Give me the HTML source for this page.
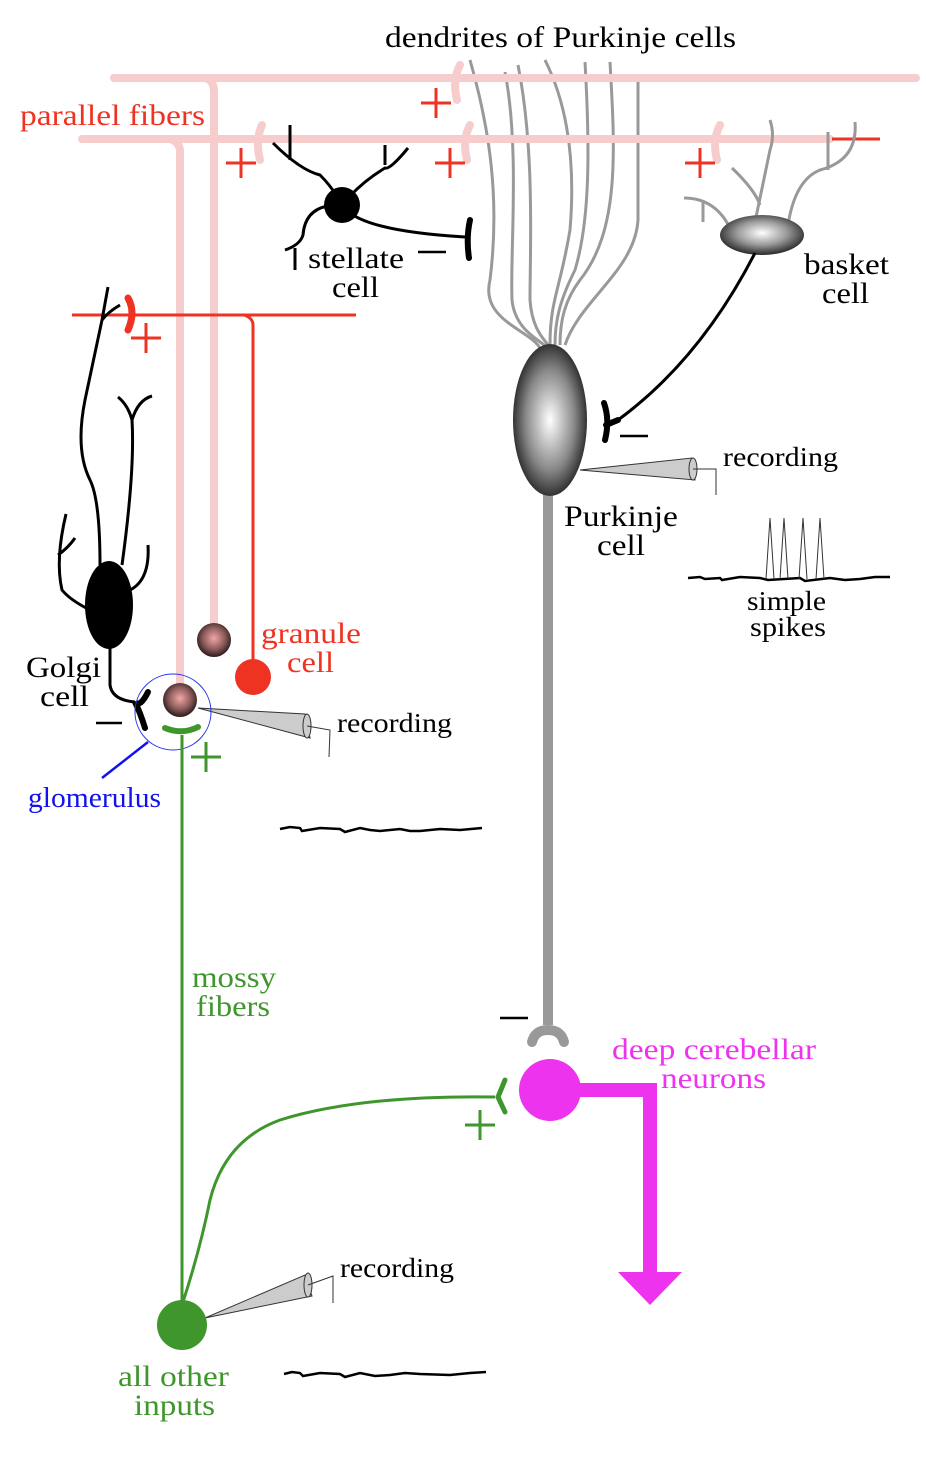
<!DOCTYPE html>
<html><head><meta charset="utf-8"><style>
html,body{margin:0;padding:0;background:#fff;}
svg{display:block;}
text{font-family:"Liberation Serif",serif;font-size:30px;}
</style></head><body>
<svg width="926" height="1466" viewBox="0 0 926 1466" xmlns="http://www.w3.org/2000/svg">
<defs>
<radialGradient id="pk" cx="0.5" cy="0.5" r="0.6">
<stop offset="0" stop-color="#ffffff"/><stop offset="0.55" stop-color="#888"/><stop offset="1" stop-color="#000"/></radialGradient>
<radialGradient id="bk" cx="0.5" cy="0.45" r="0.6">
<stop offset="0" stop-color="#ffffff"/><stop offset="0.5" stop-color="#999"/><stop offset="1" stop-color="#111"/></radialGradient>
<radialGradient id="gr" cx="0.5" cy="0.45" r="0.55">
<stop offset="0" stop-color="#f2a6a6"/><stop offset="0.6" stop-color="#8a5a5a"/><stop offset="1" stop-color="#2a1a1a"/></radialGradient>
</defs>

<!-- Purkinje dendrites -->
<g fill="none" stroke="#999" stroke-width="3">
<path d="M470 60 C490 130 500 200 490 280 C480 320 530 330 540 348"/>
<path d="M505 72 C520 150 510 250 512 300 C515 330 540 340 545 346"/>
<path d="M518 65 C535 150 530 250 530 300 C532 330 545 340 548 345"/>
<path d="M545 60 C570 110 575 170 570 230 C560 290 550 300 550 345"/>
<path d="M585 62 C590 150 590 220 575 270 C560 300 555 320 555 345"/>
<path d="M610 62 C615 150 620 230 580 280 C565 300 560 320 560 345"/>
<path d="M638 76 L638 220 C635 270 580 300 565 345"/>
</g>

<!-- parallel fibers -->
<g stroke="#f7cccc" stroke-width="8" fill="none" stroke-linecap="round">
<path d="M114 78 L916 78"/>
<path d="M205 78 Q214 80 214 92 L214 628"/>
<path d="M82 139 L830 139"/>
<path d="M170 139 Q180 142 180 152 L180 688"/>
<path d="M460 65 Q452 80 457 100"/>
<path d="M262 125 Q255 140 260 160"/>
<path d="M470 125 Q462 140 467 160"/>
<path d="M720 125 Q712 140 717 160"/>
</g>
<line x1="832" y1="139" x2="880" y2="139" stroke="#ee3322" stroke-width="3"/>

<!-- basket dendrites -->
<g fill="none" stroke="#999" stroke-width="3">
<path d="M732 168 Q755 190 760 205 M770 120 Q775 135 770 150 L755 222"/>
<path d="M828 132 L828 170 M855 122 Q858 160 820 170 Q795 180 788 225"/>
<path d="M684 198 Q715 198 730 228 M703 200 L703 222"/>
</g>
<ellipse cx="762" cy="235" rx="42" ry="20" fill="url(#bk)"/>
<text x="804" y="274" textLength="85" lengthAdjust="spacingAndGlyphs">basket</text><text x="822" y="303" textLength="47" lengthAdjust="spacingAndGlyphs">cell</text>
<!-- basket axon -->
<path d="M755 253 Q700 360 618 420" fill="none" stroke="#000" stroke-width="3"/>
<path d="M604 403 Q610 420 605 440 M606 425 L618 420" fill="none" stroke="#000" stroke-width="6" stroke-linecap="round"/>
<line x1="620" y1="436" x2="648" y2="436" stroke="#000" stroke-width="2.5"/>

<!-- Purkinje soma & axon -->
<line x1="548" y1="480" x2="548" y2="1025" stroke="#999" stroke-width="10"/>
<path d="M532 1042 Q535 1030 548 1030 Q561 1030 564 1042" fill="none" stroke="#999" stroke-width="10" stroke-linecap="round"/>
<ellipse cx="550" cy="420" rx="37" ry="76" fill="url(#pk)"/>
<line x1="500" y1="1018" x2="528" y2="1018" stroke="#000" stroke-width="2.5"/>
<text x="564" y="526" textLength="114" lengthAdjust="spacingAndGlyphs">Purkinje</text><text x="597" y="555" textLength="48" lengthAdjust="spacingAndGlyphs">cell</text>

<!-- recording pipettes -->
<g stroke="#333" stroke-width="1">
<path d="M580 470 L692 458 L695 480 Z" fill="#ccc"/>
<ellipse cx="693" cy="469" rx="4" ry="11" fill="#ccc"/>
<path d="M693 469 L716 469 L716 495" fill="none"/>
<path d="M198 708 L305 714 L310 738 Z" fill="#ccc"/>
<ellipse cx="307" cy="726" rx="4" ry="12" fill="#ccc"/>
<path d="M307 726 L330 730 L329 757" fill="none"/>
<path d="M205 1318 L305 1275 L312 1296 Z" fill="#ccc"/>
<ellipse cx="308" cy="1285" rx="4" ry="12" fill="#ccc"/>
<path d="M308 1285 L333 1276 L333 1303" fill="none"/>
</g>
<text x="723" y="466" style="font-size:27px" textLength="115" lengthAdjust="spacingAndGlyphs">recording</text>
<text x="337" y="732" style="font-size:27px" textLength="115" lengthAdjust="spacingAndGlyphs">recording</text>
<text x="340" y="1277" style="font-size:27px" textLength="114" lengthAdjust="spacingAndGlyphs">recording</text>

<!-- traces -->
<g fill="none" stroke="#000" stroke-width="2.5">
<path d="M688 578 L700 577 L705 579 L720 578 L722 580 L740 577 L760 578 L768 580 L800 578 L805 581 L830 578 L845 580 L860 579 L875 577 L890 577"/>
<path d="M280 829 L290 827 L300 828 L302 831 L320 828 L340 829 L345 832 L360 828 L370 830 L380 831 L400 829 L410 831 L420 831 L440 829 L460 830 L482 828"/>
<path d="M284 1374 L292 1372 L300 1373 L303 1376 L320 1373 L340 1374 L345 1377 L360 1373 L375 1376 L390 1375 L405 1373 L420 1374 L450 1375 L470 1373 L486 1372"/>
</g>
<g fill="none" stroke="#333" stroke-width="1">
<path d="M766 579 L770 518 L774 579 M780 579 L784 518 L788 579 M799 579 L803 518 L807 579 M816 579 L820 518 L824 579"/>
</g>
<text x="747" y="610" style="font-size:27px" textLength="79" lengthAdjust="spacingAndGlyphs">simple</text><text x="750" y="636" style="font-size:27px" textLength="76" lengthAdjust="spacingAndGlyphs">spikes</text>

<!-- stellate -->
<g fill="none" stroke="#000" stroke-width="3">
<path d="M290 125 L290 160 M273 143 Q300 170 320 175 Q330 185 336 195"/>
<path d="M385 145 L385 165 M408 148 Q390 170 385 168 Q365 180 350 196"/>
<path d="M328 206 Q305 210 303 235 Q300 245 285 250 M295 248 L295 270"/>
<path d="M353 215 Q380 232 465 237"/>
</g>
<circle cx="342" cy="205" r="18" fill="#000"/>
<path d="M470 220 Q466 238 469 258" fill="none" stroke="#000" stroke-width="6" stroke-linecap="round"/>
<line x1="418" y1="252" x2="446" y2="252" stroke="#000" stroke-width="2.5"/>
<text x="308" y="268" textLength="96" lengthAdjust="spacingAndGlyphs">stellate</text><text x="332" y="297" textLength="47" lengthAdjust="spacingAndGlyphs">cell</text>

<!-- red granule fiber -->
<g stroke="#ee3322" stroke-width="3" fill="none">
<path d="M72 315 L356 315 M244 315 Q253 318 253 325 L253 677"/>
</g>
<path d="M128 298 Q136 312 128 330" fill="none" stroke="#ee3322" stroke-width="7" stroke-linecap="round"/>
<circle cx="253" cy="677" r="18" fill="#ee3322"/>
<text x="261" y="643" fill="#ee3322" textLength="100" lengthAdjust="spacingAndGlyphs">granule</text><text x="287" y="672" fill="#ee3322" textLength="47" lengthAdjust="spacingAndGlyphs">cell</text>
<text x="20" y="125" fill="#ee3322" textLength="185" lengthAdjust="spacingAndGlyphs">parallel fibers</text>

<!-- plus signs -->
<g stroke="#ee3322" stroke-width="3">
<path d="M421 103 H451 M436 88 V118"/>
<path d="M226 163 H256 M241 148 V178"/>
<path d="M435 163 H465 M450 148 V178"/>
<path d="M685 163 H715 M700 148 V178"/>
<path d="M131 338 H161 M146 323 V353"/>
</g>
<g stroke="#3f962d" stroke-width="3">
<path d="M191 757 H221 M206 742 V772"/>
<path d="M465 1125 H495 M480 1110 V1140"/>
</g>

<!-- granule cells -->
<circle cx="214" cy="640" r="17" fill="url(#gr)"/>
<circle cx="180" cy="700" r="17" fill="url(#gr)"/>

<!-- Golgi cell -->
<g fill="none" stroke="#000" stroke-width="3">
<path d="M108 287 L102 320 L85 400 Q75 450 90 480 Q100 500 100 565"/>
<path d="M102 320 Q108 312 120 305"/>
<path d="M118 397 Q128 405 132 420 Q138 400 152 396 M132 420 Q135 470 122 565"/>
<path d="M66 514 Q55 560 62 590 Q70 600 90 610 M58 555 Q68 548 75 538"/>
<path d="M148 545 Q150 580 130 590"/>
<path d="M110 640 L110 685 Q112 700 135 702"/>
</g>
<ellipse cx="109" cy="605" rx="24" ry="44" fill="#000"/>
<path d="M148 692 Q140 708 135 702 Q140 712 145 728" fill="none" stroke="#000" stroke-width="6" stroke-linecap="round"/>
<line x1="96" y1="723" x2="122" y2="723" stroke="#000" stroke-width="2.5"/>
<text x="26" y="677" textLength="75" lengthAdjust="spacingAndGlyphs">Golgi</text><text x="40" y="706" textLength="49" lengthAdjust="spacingAndGlyphs">cell</text>

<!-- glomerulus -->
<circle cx="173" cy="712" r="38" fill="none" stroke="#2233ee" stroke-width="1"/>
<line x1="148" y1="742" x2="102" y2="778" stroke="#1111ee" stroke-width="2.5"/>
<text x="28" y="807" fill="#1111ee" style="font-size:28px" textLength="133" lengthAdjust="spacingAndGlyphs">glomerulus</text>

<!-- mossy fibers -->
<g fill="none" stroke="#3f962d" stroke-width="3">
<path d="M182 735 L182 1315"/>
<path d="M182 1305 Q200 1250 210 1200 Q225 1140 280 1120 Q360 1095 495 1097"/>
</g>
<path d="M165 728 Q182 735 198 727" fill="none" stroke="#3f962d" stroke-width="6" stroke-linecap="round"/>
<path d="M505 1080 L498 1097 L505 1112" fill="none" stroke="#3f962d" stroke-width="5" stroke-linecap="round"/>
<text x="192" y="987" fill="#3f962d" textLength="84" lengthAdjust="spacingAndGlyphs">mossy</text><text x="196" y="1016" fill="#3f962d" textLength="74" lengthAdjust="spacingAndGlyphs">fibers</text>
<circle cx="182" cy="1325" r="25" fill="#3f962d"/>
<text x="118" y="1386" fill="#3f962d" textLength="111" lengthAdjust="spacingAndGlyphs">all other</text><text x="134" y="1415" fill="#3f962d" textLength="81" lengthAdjust="spacingAndGlyphs">inputs</text>

<!-- deep cerebellar -->
<path d="M550 1090 L650 1090 L650 1275" fill="none" stroke="#ee33ee" stroke-width="14"/>
<polygon points="618,1272 682,1272 650,1305" fill="#ee33ee"/>
<circle cx="550" cy="1090" r="31" fill="#ee33ee"/>
<text x="612" y="1059" fill="#ee33ee" textLength="204" lengthAdjust="spacingAndGlyphs">deep cerebellar</text><text x="661" y="1088" fill="#ee33ee" textLength="105" lengthAdjust="spacingAndGlyphs">neurons</text>

<text x="385" y="47" textLength="351" lengthAdjust="spacingAndGlyphs">dendrites of Purkinje cells</text>
</svg>
</body></html>
